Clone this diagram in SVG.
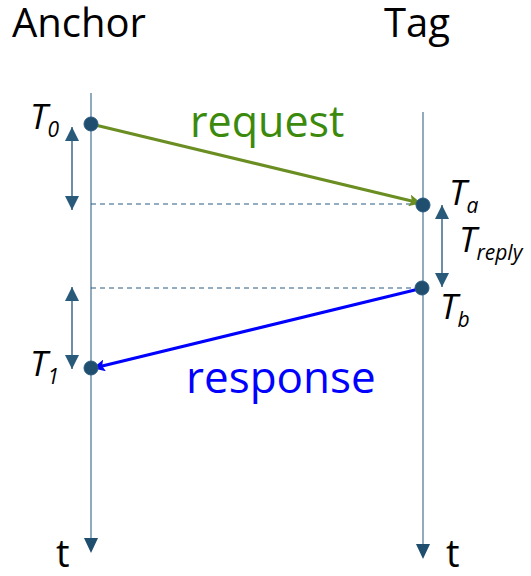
<svg xmlns="http://www.w3.org/2000/svg" width="531" height="576" viewBox="0 0 531 576">
<style>
.lbl{font-family:"Open Sans","Liberation Sans",sans-serif;fill:#000}
.it{font-family:"Open Sans","Liberation Sans",sans-serif;font-style:italic;fill:#000;font-size:35px}
.sub{font-size:21px}
.life{stroke:#6d8fa8;stroke-width:1.5;fill:none}
.dash{stroke:#2a5a80;stroke-width:1;stroke-dasharray:5,4;fill:none}
.dbl{stroke:#3e6a8a;stroke-width:1.5;fill:none}
.dot{fill:#1f4e6e;stroke:#2a5a80;stroke-width:1}
</style>
<defs>
<marker id="dh" viewBox="0 0 10 10" refX="10" refY="5" markerWidth="14" markerHeight="14" markerUnits="userSpaceOnUse" orient="auto-start-reverse">
<path d="M0,0 L10,5 L0,10 Z" fill="#2a5a7a"/>
</marker>
<marker id="ga" viewBox="0 0 10 10" refX="9" refY="5" markerWidth="14" markerHeight="12" markerUnits="userSpaceOnUse" orient="auto">
<path d="M0,0 L10,5 L0,10 L2,5 Z" fill="#6b8e23"/>
</marker>
<marker id="ba" viewBox="0 0 10 10" refX="9" refY="5" markerWidth="14" markerHeight="12" markerUnits="userSpaceOnUse" orient="auto">
<path d="M0,0 L10,5 L0,10 L2,5 Z" fill="#0000ff"/>
</marker>
</defs>
<g id="anchor">
<text class="lbl" x="12" y="37" font-size="40">Anchor</text>
<line class="life" x1="91" y1="93" x2="91" y2="540"/>
<path d="M84,538 L98,538 L91,553 Z" fill="#1f4e6e"/>
<text class="lbl" x="56" y="567" font-size="38">t</text>
</g>
<g id="tag">
<text class="lbl" x="384" y="37" font-size="40">Tag</text>
<line class="life" x1="423" y1="112" x2="423" y2="546"/>
<path d="M416,544 L430,544 L423,559 Z" fill="#1f4e6e"/>
<text class="lbl" x="446" y="567" font-size="38">t</text>
</g>
<g id="connectors">
<line class="dash" x1="91" y1="204" x2="418" y2="204"/>
<line class="dash" x1="91" y1="288" x2="418" y2="288"/>
<line x1="91" y1="124" x2="420" y2="203" stroke="#6b8e23" stroke-width="3" marker-end="url(#ga)"/>
<line x1="423" y1="288" x2="94" y2="368" stroke="#0000ff" stroke-width="3" marker-end="url(#ba)"/>
<line class="dbl" x1="72" y1="127" x2="72" y2="210" marker-start="url(#dh)" marker-end="url(#dh)"/>
<line class="dbl" x1="72" y1="287" x2="72" y2="369" marker-start="url(#dh)" marker-end="url(#dh)"/>
<line class="dbl" x1="442" y1="205" x2="442" y2="287" marker-start="url(#dh)" marker-end="url(#dh)"/>
</g>
<g id="T0">
<circle class="dot" cx="91" cy="124" r="7"/>
<text class="it" x="30" y="129">T<tspan class="sub" dy="8">0</tspan></text>
</g>
<g id="T1">
<circle class="dot" cx="91" cy="368" r="7"/>
<text class="it" x="30" y="376">T<tspan class="sub" dy="8">1</tspan></text>
</g>
<g id="Ta">
<circle class="dot" cx="423" cy="205" r="7"/>
<text class="it" x="449" y="205">T<tspan class="sub" dy="8">a</tspan></text>
</g>
<g id="Tb">
<circle class="dot" cx="422" cy="288" r="7"/>
<text class="it" x="440" y="319">T<tspan class="sub" dy="8">b</tspan></text>
</g>
<g id="Treply">
<text class="it" x="459" y="252">T<tspan class="sub" dy="8">reply</tspan></text>
</g>
<g id="labels">
<text x="190" y="137" font-family="Open Sans, Liberation Sans, sans-serif" font-size="43" fill="#3b8a0e">request</text>
<text x="186" y="393" font-family="Open Sans, Liberation Sans, sans-serif" font-size="44" fill="#0000ff">response</text>
</g>
</svg>
